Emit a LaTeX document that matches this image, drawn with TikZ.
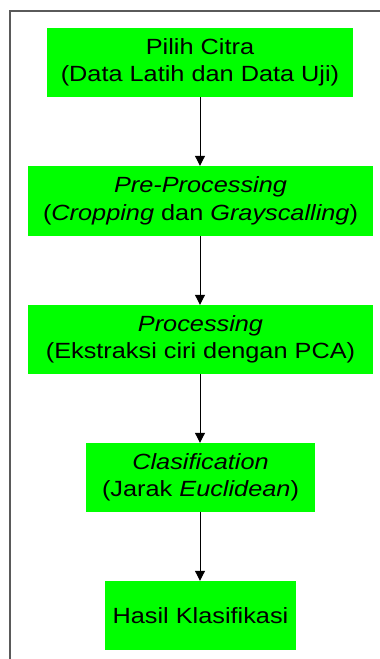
\documentclass[tikz,border=0pt]{standalone}
\usepackage{fontspec}
\setmainfont{Liberation Sans}[FakeStretch=1.15]
\usetikzlibrary{arrows.meta}
\tikzset{
  stepbox/.style={rectangle, fill=boxgreen, draw=none, inner sep=0pt, align=center,
    font=\fontsize{22}{27.5}\selectfont, text=black},
  flowarrow/.style={draw=black, line width=1pt, -{Triangle[width=10pt,length=10pt]}},
  frameline/.style={draw=framegray, line width=1.5pt}
}
\definecolor{boxgreen}{HTML}{00FF00}
\definecolor{framegray}{HTML}{5A5A5A}
\begin{document}
\begin{tikzpicture}[x=1pt,y=-1pt]
\useasboundingbox (0,0) rectangle (380,659);
\draw[frameline] (10,659) -- (10,11) -- (380,11);
\node[stepbox, minimum width=306pt, minimum height=69pt] (b1) at (200,62.5)
  {Pilih Citra\\(Data Latih dan Data Uji)};
\node[stepbox, minimum width=345pt, minimum height=70pt] (b2) at (200.5,201)
  {\textit{Pre-Processing}\\(\textit{Cropping} dan \textit{Grayscalling})};
\node[stepbox, minimum width=345pt, minimum height=69pt] (b3) at (200.5,339.5)
  {\textit{Processing}\\(Ekstraksi ciri dengan PCA)};
\node[stepbox, minimum width=229pt, minimum height=69pt] (b4) at (200.5,477.5)
  {\textit{Clasification}\\(Jarak \textit{Euclidean})};
\node[stepbox, minimum width=191pt, minimum height=69pt] (b5) at (200.5,615.5)
  {Hasil Klasifikasi};
\draw[flowarrow] (b1.south) -- (b1.south |- b2.north);
\draw[flowarrow] (b2.south -| b1.south) -- (b1.south |- b3.north);
\draw[flowarrow] (b3.south -| b1.south) -- (b1.south |- b4.north);
\draw[flowarrow] (b4.south -| b1.south) -- (b1.south |- b5.north);
\end{tikzpicture}
\end{document}
